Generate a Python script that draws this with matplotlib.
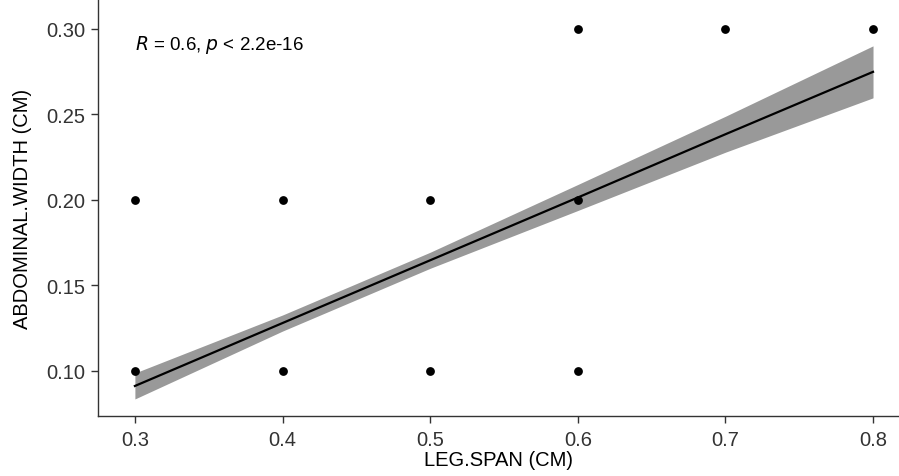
import matplotlib
matplotlib.use("Agg")
import matplotlib.pyplot as plt

# scatter data (unique observed positions)
leg_span = [0.3, 0.3, 0.4, 0.4, 0.5, 0.5, 0.6, 0.6, 0.6, 0.7, 0.8]
abd_width = [0.1, 0.2, 0.1, 0.2, 0.1, 0.2, 0.1, 0.2, 0.3, 0.3, 0.3]

# regression fit and confidence band
fit_x = [0.3, 0.4, 0.5, 0.6, 0.7, 0.8]
fit_y = [0.0912, 0.1280, 0.1647, 0.2014, 0.2384, 0.2749]
band_lo = [0.0836, 0.1233, 0.1600, 0.1938, 0.2279, 0.2597]
band_hi = [0.0988, 0.1327, 0.1694, 0.2090, 0.2489, 0.2901]

xticks = [0.3, 0.4, 0.5, 0.6, 0.7, 0.8]
yticks = [0.10, 0.15, 0.20, 0.25, 0.30]

plt.rcParams['font.family'] = ['Liberation Sans', 'DejaVu Sans']

fig = plt.figure(figsize=(8.99, 4.77), dpi=100)
ax = fig.add_axes([0.109, 0.126, 0.891, 0.874])

ax.fill_between(fit_x, band_lo, band_hi, color='#999999', linewidth=0, zorder=1)
ax.plot(fit_x, fit_y, color='black', linewidth=1.6, zorder=2)
ax.scatter(leg_span, abd_width, s=40, color='black', zorder=3, linewidths=0)

ax.set_xlim(0.275, 0.8176)
ax.set_ylim(0.0737, 0.3175)
ax.set_xticks(xticks)
ax.set_xticklabels([f"{v:.1f}" for v in xticks])
ax.set_yticks(yticks)
ax.set_yticklabels([f"{v:.2f}" for v in yticks])

for s in ['top', 'right']:
    ax.spines[s].set_visible(False)
for s in ['left', 'bottom']:
    ax.spines[s].set_linewidth(1.0)
    ax.spines[s].set_color('#333333')
ax.tick_params(axis='both', length=5, width=1.0, color='#333333',
               labelsize=14.5, labelcolor='#333333')
ax.tick_params(axis='x', pad=5)
ax.tick_params(axis='y', pad=4)

ax.set_xlabel('LEG.SPAN (CM)', fontsize=14.5, color='black', labelpad=1)
ax.set_ylabel('ABDOMINAL.WIDTH (CM)', fontsize=14.5, color='black', labelpad=10)

ax.text(0.3, 0.2912, r'$\it{R}$ = 0.6, $\it{p}$ < 2.2e-16', fontsize=13.5,
        ha='left', va='center', color='black')

fig.savefig('out.png', dpi=100)
